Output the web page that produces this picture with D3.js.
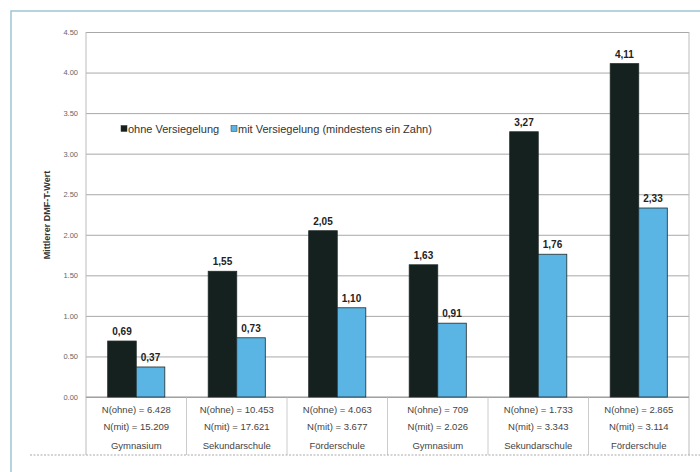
<!DOCTYPE html>
<html>
<head>
<meta charset="utf-8">
<script src="https://d3js.org/d3.v7.min.js"></script>
<style>
  body { margin: 0; background: #fff; }
  text { font-family: "Liberation Sans", Arial, sans-serif; }
  .grid line { stroke: #a8a8a8; stroke-width: 1px; }
  .grid .domain { stroke: none; }
  .yaxis text { fill: #666; font-size: 7.5px; }
  .yaxis .domain, .yaxis line { stroke: none; }
</style>
</head>
<body>
<svg id="chart" width="700" height="472"></svg>
<script>
  // data
  const categories = ["Gymnasium", "Sekundarschule", "Förderschule", "Gymnasium", "Sekundarschule", "Förderschule"];
  const nOhne = ["6.428", "10.453", "4.063", "709", "1.733", "2.865"];
  const nMit = ["15.209", "17.621", "3.677", "2.026", "3.343", "3.114"];
  const ohne = [0.69, 1.55, 2.05, 1.63, 3.27, 4.11];
  const mit = [0.37, 0.73, 1.10, 0.91, 1.76, 2.33];
  const series = ["ohne Versiegelung", "mit Versiegelung (mindestens ein Zahn)"];
  const yTicks = [0, 0.5, 1, 1.5, 2, 2.5, 3, 3.5, 4, 4.5];

  const svg = d3.select("#chart");
  const margin = { left: 86, right: 11, top: 32, bottom: 75 };
  const plotW = 689 - margin.left;
  const plotH = 397 - margin.top;
  const colors = ["#14211f", "#5ab4e4"];

  // frame
  svg.append("path")
    .attr("d", "M11,472 L11,11 L700,11")
    .attr("fill", "none").attr("stroke", "#9cc7d2").attr("stroke-width", 1.5);

  const g = svg.append("g").attr("transform", `translate(${margin.left},${margin.top})`);

  const x0 = d3.scaleBand().domain(d3.range(categories.length)).range([0, plotW]).padding(0);
  const x1 = d3.scaleBand().domain([0, 1]).range([0, x0.bandwidth()]).paddingInner(0).paddingOuter(0.76);
  const y = d3.scaleLinear().domain([0, 4.5]).range([plotH, 0]);

  // gridlines
  g.append("g").attr("class", "grid")
    .call(d3.axisLeft(y).tickValues(yTicks).tickSize(-plotW).tickFormat(""));

  g.append("g").attr("class", "yaxis")
    .attr("transform", "translate(-4,0)")
    .call(d3.axisLeft(y).tickValues(yTicks).tickSize(0).tickPadding(4).tickFormat(d3.format(".2f")));

  // plot borders + category separators
  g.append("line").attr("x1", 0).attr("x2", 0).attr("y1", 0).attr("y2", plotH + 58)
    .attr("stroke", "#bbb");
  g.append("line").attr("x1", plotW).attr("x2", plotW).attr("y1", 0).attr("y2", plotH + 58)
    .attr("stroke", "#bbb");
  g.selectAll("line.sep").data(d3.range(1, categories.length))
    .join("line").attr("class", "sep")
    .attr("x1", d => x0(d)).attr("x2", d => x0(d))
    .attr("y1", plotH).attr("y2", plotH + 58)
    .attr("stroke", "#ccc");
  g.append("line").attr("x1", 0).attr("x2", plotW).attr("y1", plotH).attr("y2", plotH)
    .attr("stroke", "#999");

  // bottom dashed line
  svg.append("line").attr("x1", 30).attr("x2", 700).attr("y1", 455).attr("y2", 455)
    .attr("stroke", "#aaa").attr("stroke-dasharray", "2,1.5");

  // bars
  const groups = g.selectAll("g.cat").data(categories.map((c, i) => i))
    .join("g").attr("class", "cat")
    .attr("transform", i => `translate(${x0(i)},0)`);

  groups.selectAll("rect").data(i => [ohne[i], mit[i]].map((v, s) => ({ v, s })))
    .join("rect")
    .attr("x", d => x1(d.s))
    .attr("y", d => y(d.v))
    .attr("width", x1.bandwidth())
    .attr("height", d => plotH - y(d.v))
    .attr("fill", d => colors[d.s])
    .attr("stroke", "#1e2a28").attr("stroke-width", 0.8);

  groups.selectAll("text.val").data(i => [ohne[i], mit[i]].map((v, s) => ({ v, s })))
    .join("text").attr("class", "val")
    .attr("x", d => x1(d.s) + x1.bandwidth() / 2)
    .attr("y", d => y(d.v) - 6)
    .attr("text-anchor", "middle")
    .attr("font-size", "10px").attr("font-weight", "bold").attr("fill", "#222")
    .text(d => d3.format(".2f")(d.v).replace(".", ","));

  // category labels
  const labelRows = [i => `N(ohne) = ${nOhne[i]}`, i => `N(mit) = ${nMit[i]}`, i => categories[i]];
  const rowY = [13, 30, 49];
  labelRows.forEach((f, r) => {
    groups.append("text")
      .attr("x", x0.bandwidth() / 2)
      .attr("y", plotH + rowY[r])
      .attr("dy", "0.35em")
      .attr("text-anchor", "middle")
      .attr("font-size", "9.5px").attr("fill", "#444")
      .text(f);
  });

  // y axis title
  svg.append("text")
    .attr("transform", "translate(47,215) rotate(-90)")
    .attr("text-anchor", "middle").attr("dy", "0.35em")
    .attr("font-size", "9px").attr("font-weight", "bold").attr("fill", "#333")
    .text("Mittlerer DMF-T-Wert");

  // legend
  const legend = svg.append("g").attr("transform", "translate(121,129)");
  const legX = [0, 110];
  series.forEach((s, i) => {
    legend.append("rect").attr("x", legX[i]).attr("y", -3.5).attr("width", 6).attr("height", 6)
      .attr("fill", colors[i]).attr("stroke", "#333").attr("stroke-width", 0.5);
    legend.append("text").attr("x", legX[i] + 7).attr("y", 0).attr("dy", "0.35em")
      .attr("font-size", "11px").attr("fill", "#333").text(s);
  });
</script>
</body>
</html>
